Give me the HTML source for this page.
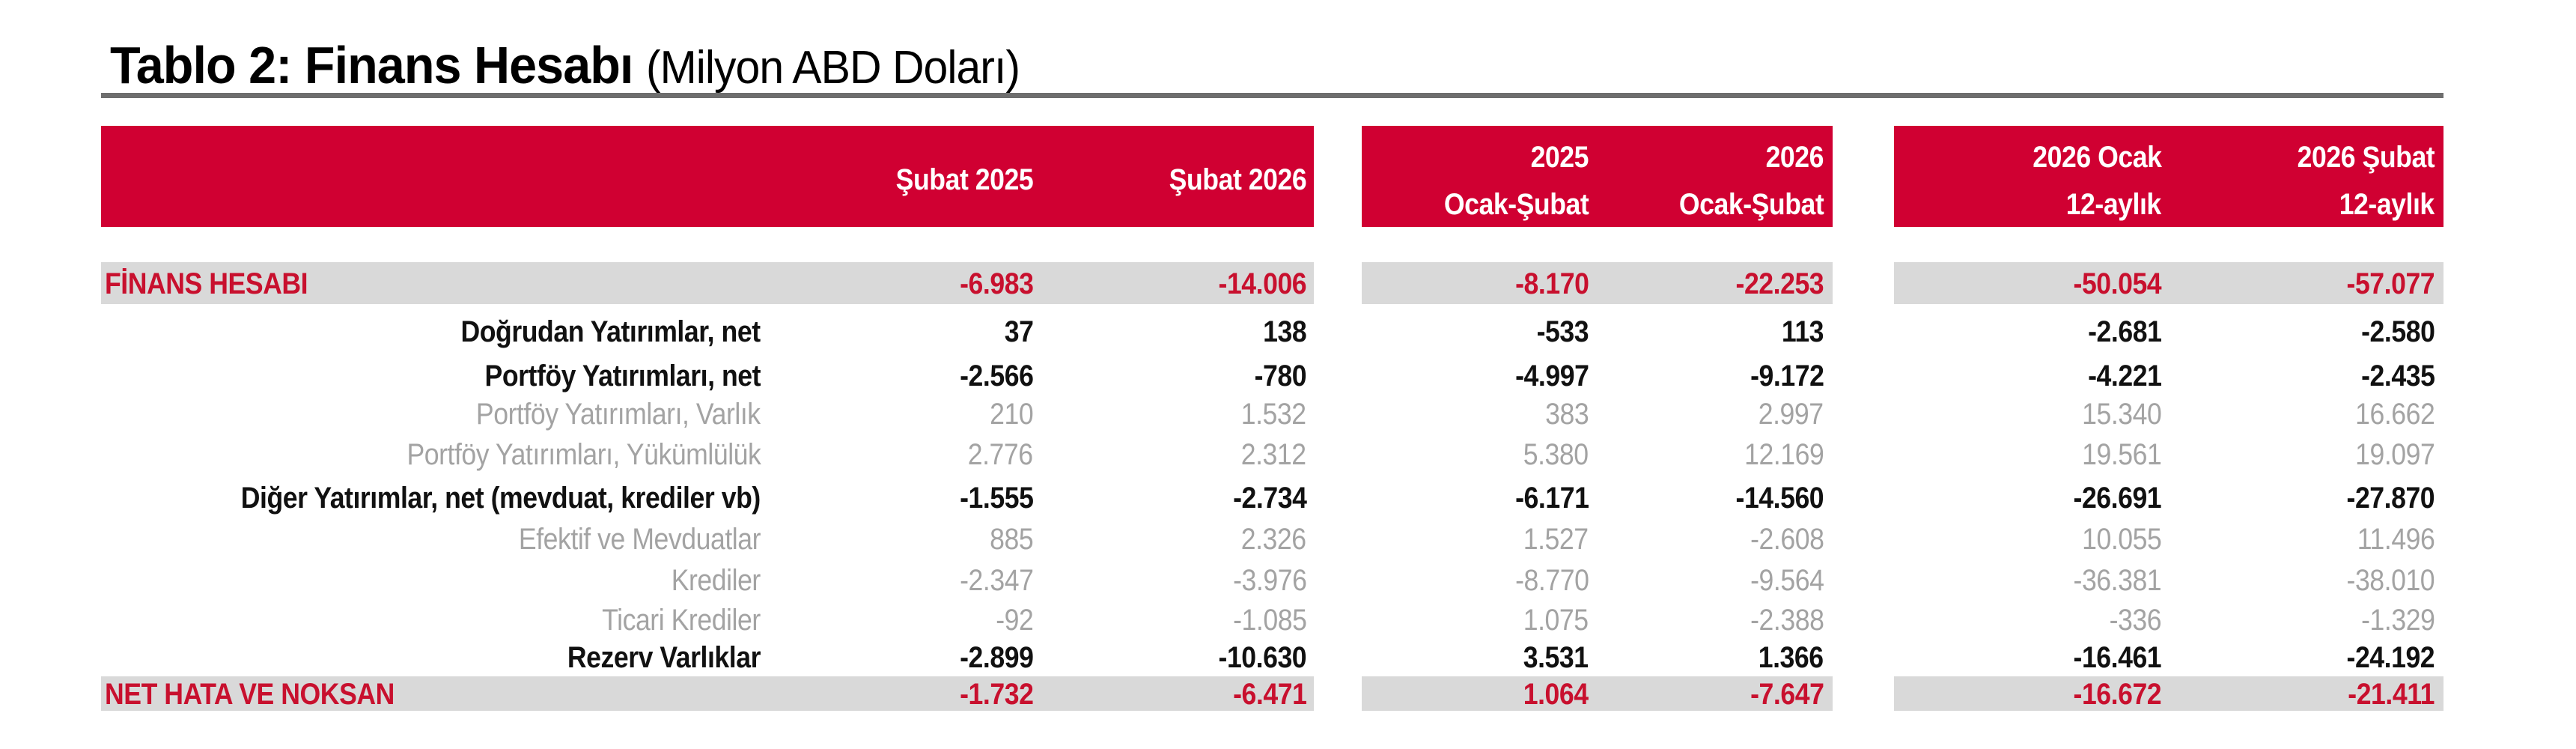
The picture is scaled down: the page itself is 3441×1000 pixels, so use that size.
<!DOCTYPE html>
<html><head><meta charset="utf-8"><style>
body{margin:0;width:3441px;height:1000px;background:#fff;position:relative;overflow:hidden;font-family:"Liberation Sans",sans-serif;}
.a{position:absolute;}
.t{position:absolute;white-space:nowrap;line-height:1;transform:translateY(-50%) scaleX(0.89);transform-origin:right center;font-size:40px;letter-spacing:-0.5px;}
.t.l{transform-origin:left center;}
.b{font-weight:bold;color:#111;}
.g{color:#a3a3a3;}
.red{color:#c8102e;font-weight:bold;}
.w{color:#fff;font-weight:bold;}
</style></head><body>
<div class="a" style="left:147px;top:52px;font-size:70px;line-height:1;white-space:nowrap;letter-spacing:-1px;transform:scaleX(0.95);transform-origin:left top;"><b>Tablo 2: Finans Hesabı</b> <span style="font-size:62px">(Milyon ABD Doları)</span></div>
<div class="a" style="left:135px;top:124px;width:3129px;height:7px;background:#6e6e6e;"></div>

<div class="a" style="left:135px;top:168px;width:1620px;height:135px;background:#d00032;"></div>
<div class="a" style="left:1819px;top:168px;width:629px;height:135px;background:#d00032;"></div>
<div class="a" style="left:2530px;top:168px;width:734px;height:135px;background:#d00032;"></div>

<div class="a" style="left:135px;top:350px;width:1620px;height:56px;background:#d9d9d9;"></div>
<div class="a" style="left:1819px;top:350px;width:629px;height:56px;background:#d9d9d9;"></div>
<div class="a" style="left:2530px;top:350px;width:734px;height:56px;background:#d9d9d9;"></div>
<div class="a" style="left:135px;top:903px;width:1620px;height:46px;background:#d9d9d9;"></div>
<div class="a" style="left:1819px;top:903px;width:629px;height:46px;background:#d9d9d9;"></div>
<div class="a" style="left:2530px;top:903px;width:734px;height:46px;background:#d9d9d9;"></div>

<div id="c"></div>
<script>
var H='';
function T(x,y,s,c,al){H+='<div class="t '+c+(al=='l'?' l':'')+'" style="'+(al=='l'?'left:'+x+'px':'right:'+(3441-x)+'px')+';top:'+y+'px">'+s+'</div>';}
T(1380,240,'Şubat 2025','w');T(1745,240,'Şubat 2026','w');
T(2122,210,'2025','w');T(2436,210,'2026','w');T(2122,273,'Ocak-Şubat','w');T(2436,273,'Ocak-Şubat','w');
T(2887,210,'2026 Ocak','w');T(3252,210,'2026 Şubat','w');T(2887,273,'12-aylık','w');T(3252,273,'12-aylık','w');
var rows=[
[379,'FİNANS HESABI','red',['-6.983','-14.006','-8.170','-22.253','-50.054','-57.077']],
[443,'Doğrudan Yatırımlar, net','b',['37','138','-533','113','-2.681','-2.580']],
[502,'Portföy Yatırımları, net','b',['-2.566','-780','-4.997','-9.172','-4.221','-2.435']],
[553,'Portföy Yatırımları, Varlık','g',['210','1.532','383','2.997','15.340','16.662']],
[607,'Portföy Yatırımları, Yükümlülük','g',['2.776','2.312','5.380','12.169','19.561','19.097']],
[665,'Diğer Yatırımlar, net (mevduat, krediler vb)','b',['-1.555','-2.734','-6.171','-14.560','-26.691','-27.870']],
[720,'Efektif ve Mevduatlar','g',['885','2.326','1.527','-2.608','10.055','11.496']],
[775,'Krediler','g',['-2.347','-3.976','-8.770','-9.564','-36.381','-38.010']],
[828,'Ticari Krediler','g',['-92','-1.085','1.075','-2.388','-336','-1.329']],
[878,'Rezerv Varlıklar','b',['-2.899','-10.630','3.531','1.366','-16.461','-24.192']],
[927,'NET HATA VE NOKSAN','red',['-1.732','-6.471','1.064','-7.647','-16.672','-21.411']]];
var cx=[1380,1745,2122,2436,2887,3252];
rows.forEach(function(r){
 if(r[2]=='red')T(140,r[0],r[1],'red','l');else T(1016,r[0],r[1],r[2]);
 r[3].forEach(function(v,i){T(cx[i],r[0],v,r[2]);});
});
document.getElementById('c').innerHTML=H;
</script>
</body></html>
